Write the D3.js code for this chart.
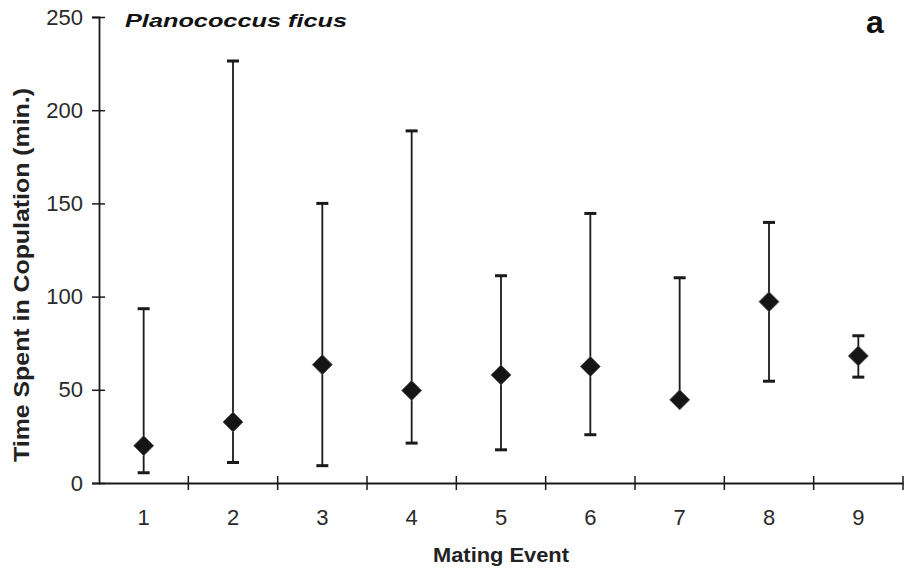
<!DOCTYPE html>
<html>
<head>
<meta charset="utf-8">
<script src="https://cdn.jsdelivr.net/npm/d3@7"></script>
<style>
  body { margin: 0; background: #fff; }
  text { font-family: "Liberation Sans", Arial, sans-serif; }
</style>
</head>
<body>
<div id="chart"></div>
<script>
// Data
var events = [1, 2, 3, 4, 5, 6, 7, 8, 9];
var means = [20, 32.7, 63.5, 49.6, 58, 62.5, 44.6, 97.3, 68.2];
var upper = [93.5, 226.4, 150, 188.9, 111.2, 144.6, 110.1, 139.8, 79];
var lower = [5.5, 11, 9.3, 21.4, 17.8, 25.9, 44.6, 54.6, 56.8];
var yTicks = [0, 50, 100, 150, 200, 250];

var width = 907, height = 573;
var margin = {left: 99, right: 4, top: 17, bottom: 90};

var svg = d3.select("#chart")
    .append("svg")
    .attr("width", width)
    .attr("height", height);

var x = d3.scaleBand()
    .domain(events)
    .range([margin.left, width - margin.right])
    .padding(0);

var y = d3.scaleLinear()
    .domain([0, 250])
    .range([height - margin.bottom, margin.top]);

var ink = "#1a1a1a";

// Y axis
var yAxis = svg.append("g")
    .attr("transform", "translate(" + margin.left + ",0)")
    .call(d3.axisLeft(y).tickValues(yTicks).tickSize(7).tickPadding(9));
yAxis.select(".domain").attr("stroke", ink).attr("stroke-width", 1.8);
yAxis.selectAll(".tick line").attr("x1", 6).attr("stroke", ink).attr("stroke-width", 1.5);
yAxis.selectAll(".tick text")
    .attr("font-size", 22)
    .attr("fill", "#2a2a2a");

// X axis (labels centred in bands, ticks at band edges)
var xAxis = svg.append("g")
    .attr("transform", "translate(0," + y(0) + ")")
    .call(d3.axisBottom(x).tickSize(0).tickPadding(26));
xAxis.select(".domain").attr("stroke", ink).attr("stroke-width", 1.8);
xAxis.selectAll(".tick text")
    .attr("font-size", 22)
    .attr("fill", "#2a2a2a");

var edges = events.map(function(d) { return x(d) + x.bandwidth(); });
xAxis.selectAll(".edge")
    .data(edges)
    .enter()
    .append("line")
    .attr("x1", function(d) { return d; })
    .attr("x2", function(d) { return d; })
    .attr("y1", -7)
    .attr("y2", 7)
    .attr("stroke", ink)
    .attr("stroke-width", 1.5);

// Error bars
var rows = events.map(function(d, i) {
    return {e: d, m: means[i], hi: upper[i], lo: lower[i]};
});
var cx = function(d) { return x(d.e) + x.bandwidth() / 2; };

var bars = svg.append("g");
bars.selectAll(".whisker")
    .data(rows)
    .enter()
    .append("line")
    .attr("x1", cx).attr("x2", cx)
    .attr("y1", function(d) { return y(d.hi); })
    .attr("y2", function(d) { return y(d.lo); })
    .attr("stroke", ink)
    .attr("stroke-width", 1.8);

["hi", "lo"].forEach(function(k) {
    bars.selectAll(".cap-" + k)
        .data(rows)
        .enter()
        .append("line")
        .attr("x1", function(d) { return cx(d) - 6; })
        .attr("x2", function(d) { return cx(d) + 6; })
        .attr("y1", function(d) { return y(d[k]); })
        .attr("y2", function(d) { return y(d[k]); })
        .attr("stroke", ink)
        .attr("stroke-width", 3);
});

// Diamond markers
var diamond = d3.symbol().type(d3.symbolSquare).size(200);
svg.append("g").selectAll("path")
    .data(rows)
    .enter()
    .append("path")
    .attr("d", diamond)
    .attr("transform", function(d) {
        return "translate(" + cx(d) + "," + y(d.m) + ") rotate(45)";
    })
    .attr("fill", "#151515")
    .attr("stroke", "#555")
    .attr("stroke-width", 0.8);

// Titles
svg.append("text")
    .attr("x", 125)
    .attr("y", 27)
    .attr("font-size", 19)
    .attr("font-weight", "bold")
    .attr("font-style", "italic")
    .attr("textLength", 222)
    .attr("lengthAdjust", "spacingAndGlyphs")
    .attr("fill", "#111")
    .text("Planococcus ficus");

svg.append("text")
    .attr("x", 866)
    .attr("y", 33)
    .attr("font-size", 32)
    .attr("font-weight", "bold")
    .attr("fill", "#111")
    .text("a");

svg.append("text")
    .attr("x", 501)
    .attr("y", 562)
    .attr("text-anchor", "middle")
    .attr("font-size", 21)
    .attr("font-weight", "bold")
    .attr("textLength", 136)
    .attr("lengthAdjust", "spacingAndGlyphs")
    .attr("fill", "#222")
    .text("Mating Event");

svg.append("text")
    .attr("transform", "translate(29,275) rotate(-90)")
    .attr("text-anchor", "middle")
    .attr("font-size", 22)
    .attr("font-weight", "bold")
    .attr("textLength", 374)
    .attr("lengthAdjust", "spacingAndGlyphs")
    .attr("fill", "#222")
    .text("Time Spent in Copulation (min.)");
</script>
</body>
</html>
